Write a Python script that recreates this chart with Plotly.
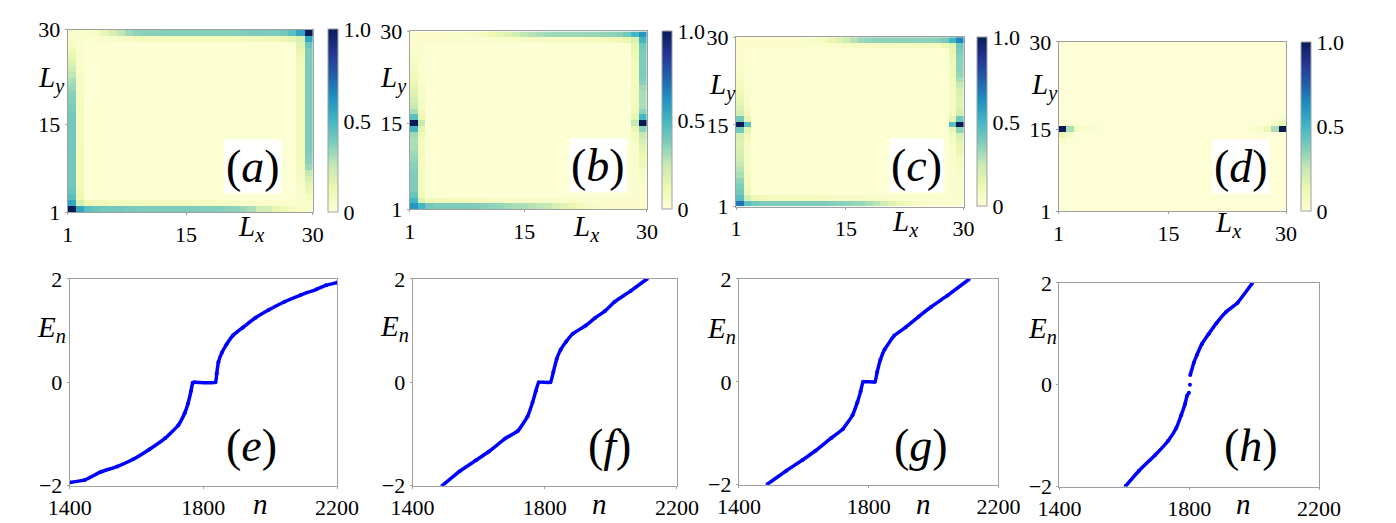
import plotly.graph_objects as go

W, H = 1396, 523

# ---------------- heatmap data ----------------
BG_ABC = 0.02
BG_D = 0.01

# panel (a): edge rows / columns (index 0 -> site 1)
A_bottom = [1.0,0.55,0.45,0.42,0.40,0.40,0.40,0.39,0.39,0.38,0.38,0.38,0.38,0.38,0.38,0.38,0.37,0.37,0.37,0.36,0.35,0.33,0.30,0.22,0.20,0.15,0.12,0.07,0.05,0.04]
A_top    = [0.03,0.03,0.04,0.06,0.14,0.20,0.26,0.32,0.35,0.36,0.36,0.37,0.37,0.37,0.37,0.37,0.37,0.37,0.37,0.37,0.37,0.37,0.38,0.38,0.38,0.38,0.40,0.45,0.55,1.0]
A_left   = [1.0,0.55,0.45,0.42,0.40,0.40,0.40,0.40,0.40,0.40,0.40,0.40,0.40,0.40,0.40,0.40,0.39,0.38,0.37,0.36,0.33,0.30,0.26,0.22,0.18,0.14,0.10,0.07,0.05,0.03]
A_right  = [0.04,0.05,0.08,0.12,0.15,0.20,0.25,0.33,0.36,0.37,0.38,0.38,0.38,0.38,0.38,0.38,0.38,0.38,0.38,0.38,0.38,0.38,0.38,0.38,0.38,0.38,0.38,0.42,0.55,1.0]
A_bottom2 = [0.55,0.20,0.12,0.10,0.10,0.09,0.09,0.09,0.08,0.08,0.08,0.08,0.08,0.08,0.08,0.07,0.07,0.07,0.06,0.06,0.06,0.05,0.05,0.04,0.04,0.04,0.03,0.03,0.03,0.05]
A_top2    = [0.03,0.03,0.03,0.03,0.04,0.05,0.06,0.07,0.08,0.08,0.08,0.08,0.08,0.08,0.08,0.08,0.08,0.08,0.08,0.08,0.08,0.08,0.09,0.09,0.10,0.10,0.12,0.15,0.20,0.55]
A_left2   = [0.55,0.20,0.12,0.10,0.09,0.09,0.09,0.09,0.09,0.09,0.09,0.08,0.08,0.08,0.08,0.08,0.08,0.08,0.07,0.07,0.06,0.06,0.05,0.05,0.04,0.04,0.03,0.03,0.03,0.03]
A_right2  = [0.03,0.03,0.03,0.04,0.05,0.06,0.07,0.08,0.09,0.09,0.09,0.09,0.09,0.09,0.09,0.09,0.09,0.09,0.09,0.09,0.09,0.09,0.09,0.09,0.10,0.11,0.13,0.16,0.20,0.55]

# panel (b)
B_bottom = [0.60,0.50,0.40,0.38,0.38,0.38,0.38,0.38,0.37,0.36,0.35,0.34,0.32,0.30,0.30,0.28,0.26,0.24,0.20,0.17,0.13,0.10,0.07,0.05,0.04,0.03,0.03,0.03,0.03,0.03]
B_top    = [0.03,0.03,0.03,0.03,0.03,0.03,0.04,0.05,0.07,0.09,0.12,0.15,0.18,0.22,0.26,0.28,0.30,0.32,0.33,0.33,0.33,0.33,0.33,0.33,0.34,0.35,0.36,0.40,0.50,0.60]
B_left   = [0.60,0.50,0.42,0.38,0.38,0.38,0.37,0.36,0.34,0.32,0.30,0.30,0.32,0.50,1.0,0.45,0.30,0.24,0.20,0.18,0.15,0.12,0.10,0.08,0.06,0.05,0.04,0.03,0.03,0.03]
B_right  = [0.03,0.03,0.03,0.03,0.04,0.05,0.07,0.10,0.12,0.14,0.16,0.20,0.25,0.35,1.0,0.50,0.35,0.30,0.30,0.30,0.32,0.36,0.38,0.38,0.38,0.38,0.38,0.40,0.50,0.60]
B_bottom2 = [0.50,0.18,0.10,0.09,0.09,0.08,0.08,0.08,0.08,0.08,0.07,0.07,0.07,0.06,0.06,0.06,0.05,0.05,0.05,0.04,0.04,0.04,0.03,0.03,0.03,0.03,0.03,0.03,0.03,0.03]
B_top2    = [0.03,0.03,0.03,0.03,0.03,0.03,0.03,0.03,0.03,0.03,0.04,0.04,0.05,0.05,0.06,0.06,0.06,0.07,0.07,0.07,0.07,0.07,0.08,0.08,0.08,0.09,0.10,0.14,0.18,0.50]
B_left2   = [0.50,0.18,0.10,0.09,0.09,0.09,0.08,0.08,0.08,0.08,0.08,0.09,0.10,0.15,0.25,0.12,0.09,0.07,0.06,0.05,0.05,0.04,0.04,0.03,0.03,0.03,0.03,0.03,0.03,0.03]
B_right2  = [0.03,0.03,0.03,0.03,0.03,0.03,0.03,0.04,0.04,0.05,0.05,0.06,0.08,0.12,0.25,0.15,0.10,0.09,0.08,0.08,0.08,0.08,0.09,0.09,0.09,0.10,0.12,0.14,0.18,0.50]

# panel (c)
C_bottom = [0.70,0.45,0.40,0.38,0.38,0.38,0.38,0.38,0.38,0.38,0.38,0.38,0.37,0.36,0.35,0.34,0.33,0.30,0.27,0.22,0.18,0.14,0.10,0.07,0.05,0.04,0.03,0.03,0.03,0.03]
C_top    = [0.03,0.03,0.03,0.03,0.03,0.03,0.03,0.03,0.03,0.04,0.06,0.09,0.13,0.17,0.22,0.28,0.32,0.34,0.35,0.35,0.35,0.35,0.35,0.35,0.35,0.35,0.36,0.38,0.50,0.65]
C_left   = [0.70,0.45,0.40,0.38,0.35,0.30,0.28,0.25,0.22,0.20,0.18,0.18,0.20,0.40,1.0,0.40,0.22,0.18,0.15,0.12,0.10,0.08,0.06,0.05,0.04,0.03,0.03,0.03,0.03,0.03]
C_right  = [0.03,0.03,0.03,0.03,0.03,0.04,0.05,0.07,0.09,0.12,0.14,0.16,0.20,0.35,1.0,0.40,0.22,0.18,0.17,0.18,0.20,0.24,0.30,0.34,0.35,0.35,0.36,0.38,0.40,0.65]
C_bottom2 = [0.45,0.20,0.12,0.10,0.09,0.09,0.09,0.08,0.08,0.08,0.08,0.08,0.07,0.07,0.07,0.06,0.06,0.05,0.05,0.05,0.04,0.04,0.03,0.03,0.03,0.03,0.03,0.03,0.03,0.03]
C_top2    = [0.03,0.03,0.03,0.03,0.03,0.03,0.03,0.03,0.03,0.03,0.03,0.03,0.04,0.04,0.05,0.06,0.06,0.07,0.07,0.07,0.07,0.07,0.08,0.08,0.08,0.08,0.09,0.12,0.16,0.40]
C_left2   = [0.45,0.20,0.10,0.09,0.08,0.07,0.07,0.06,0.06,0.06,0.06,0.07,0.09,0.15,0.45,0.14,0.08,0.06,0.05,0.04,0.04,0.03,0.03,0.03,0.03,0.03,0.03,0.03,0.03,0.03]
C_right2  = [0.03,0.03,0.03,0.03,0.03,0.03,0.03,0.03,0.04,0.04,0.05,0.06,0.08,0.13,0.45,0.15,0.08,0.07,0.07,0.07,0.07,0.08,0.09,0.10,0.10,0.10,0.11,0.13,0.16,0.40]

# panel (d): sparse non-background cells (x, y, value)
D_cells = [(1,15,1.0),(2,15,0.30),(3,15,0.08),(4,15,0.04),(5,15,0.03),
           (1,14,0.12),(2,14,0.06),(1,13,0.04),
           (30,15,1.0),(29,15,0.30),(28,15,0.12),(27,15,0.05),(26,15,0.03),
           (30,16,0.15),(29,16,0.06),(30,17,0.04)]

# ---------------- spectra data ----------------
E_n = [1400,1445,1493,1542,1590,1638,1686,1725,1744,1754,1763,1768,1773,1836,1840,1845,1855,1869,1889,1918,1956,1995,2043,2091,2139,2168,2200]
E_E = [-1.94,-1.89,-1.735,-1.63,-1.49,-1.30,-1.08,-0.83,-0.60,-0.41,-0.17,-0.01,0.0,0.0,0.17,0.39,0.57,0.73,0.91,1.06,1.25,1.40,1.56,1.69,1.80,1.88,1.93]

F_n = [1490,1543,1592,1631,1680,1719,1748,1763,1773,1782,1817,1826,1836,1848,1865,1885,1924,1953,1982,2012,2060,2109]
F_E = [-2.0,-1.72,-1.51,-1.34,-1.09,-0.94,-0.66,-0.39,-0.17,0.0,0.0,0.20,0.45,0.63,0.79,0.94,1.10,1.25,1.38,1.56,1.77,2.0]

G_n = [1488,1546,1596,1636,1685,1720,1750,1765,1775,1783,1819,1826,1836,1849,1879,1914,1954,1993,2043,2108]
G_E = [-1.99,-1.73,-1.52,-1.34,-1.09,-0.92,-0.65,-0.40,-0.19,0.0,0.0,0.19,0.43,0.63,0.90,1.06,1.27,1.46,1.68,1.99]

H_n = [1604,1645,1695,1735,1760,1775,1787,1793,1799,None,1802,None,1803,1814,1824,1839,1859,1884,1914,1949,1993]
H_E = [-1.99,-1.69,-1.38,-1.10,-0.85,-0.60,-0.38,-0.22,-0.16,None,0.0,None,0.19,0.43,0.59,0.80,0.99,1.21,1.43,1.61,1.98]

heat_ticks = [1, 15, 30]
cbar_ticks = [0, 0.5, 1.0]
cbar_ticktext = ["0", "0.5", "1.0"]
n_ticks = [1400, 1800, 2200]
E_ticks = [-2, 0, 2]
E_ticktext = ["\u22122", "0", "2"]

YlGnBu = ['rgb(255,255,217)', 'rgb(237,248,177)', 'rgb(199,233,180)', 'rgb(127,205,187)',
          'rgb(65,182,196)', 'rgb(29,145,192)', 'rgb(34,94,168)', 'rgb(37,52,148)', 'rgb(8,29,88)']
cscale = [[i / (len(YlGnBu) - 1), c] for i, c in enumerate(YlGnBu)]


def build_grid(bg, bottom, top, left, right, bottom2, top2, left2, right2):
    z = [[bg] * 30 for _ in range(30)]
    for i in range(1, 29):
        z[1][i] = bottom2[i]
        z[28][i] = top2[i]
        z[i][1] = left2[i]
        z[i][28] = right2[i]
    for i in range(30):
        z[0][i] = bottom[i]
        z[29][i] = top[i]
        z[i][0] = left[i]
        z[i][29] = right[i]
    return z


zA = build_grid(BG_ABC, A_bottom, A_top, A_left, A_right, A_bottom2, A_top2, A_left2, A_right2)
zB = build_grid(BG_ABC, B_bottom, B_top, B_left, B_right, B_bottom2, B_top2, B_left2, B_right2)
zC = build_grid(BG_ABC, C_bottom, C_top, C_left, C_right, C_bottom2, C_top2, C_left2, C_right2)
zD = [[BG_D] * 30 for _ in range(30)]
for (cx, cy, v) in D_cells:
    zD[cy - 1][cx - 1] = v

# ---------------- layout (pixel boxes) ----------------
def fx(p):
    return p / W

def fy(p):
    return 1 - p / H

FONT = "'Liberation Serif', 'Times New Roman', 'DejaVu Serif', serif"
GRAY = "rgb(160,160,160)"
TICK_SIZE = 22

heat_boxes = [(39, 292, 10, 202), (392, 637, 12, 199), (729, 964, 18, 196), (1062, 1297, 23, 201)]
cbar_boxes = [(308, 10, 202), (653, 12, 199), (978, 18, 196), (1312, 23, 201)]
line_boxes = [(41, 317, 272, 489), (395, 668, 272, 489), (732, 1000, 272, 488), (1063, 1331, 276, 490)]

fig = go.Figure()
layout = dict(width=W, height=H, margin=dict(l=0, r=0, t=0, b=0),
              paper_bgcolor="white", plot_bgcolor="white", showlegend=False,
              font=dict(family=FONT, size=TICK_SIZE, color="black"))

def axis_common():
    return dict(showline=True, mirror=True, linecolor=GRAY, linewidth=1, ticks="outside",
                ticklen=2, tickcolor=GRAY, tickwidth=1,
                showgrid=False, zeroline=False, tickfont=dict(family=FONT, size=TICK_SIZE, color="black"),
                fixedrange=True)

grids = [zA, zB, zC, zD]
for k in range(4):
    xa = "xaxis" if k == 0 else f"xaxis{k+1}"
    ya = "yaxis" if k == 0 else f"yaxis{k+1}"
    xr = "x" if k == 0 else f"x{k+1}"
    yr = "y" if k == 0 else f"y{k+1}"
    l, r, t, b = heat_boxes[k]
    cx, ct, cb = cbar_boxes[k]
    fig.add_trace(go.Heatmap(
        z=grids[k], x0=1 + 29 / 60, dx=29 / 30, y0=1 + 29 / 60, dy=29 / 30,
        colorscale=cscale, zmin=0, zmax=1, xaxis=xr, yaxis=yr, showscale=True,
        colorbar=dict(x=fx(cx), xanchor="left", thickness=10, thicknessmode="pixels",
                      len=(cb - ct) / H, lenmode="fraction", y=fy((ct + cb) / 2), yanchor="middle",
                      outlinecolor=GRAY, outlinewidth=1, tickvals=cbar_ticks, ticktext=cbar_ticktext,
                      ticks="", tickfont=dict(family=FONT, size=TICK_SIZE, color="black"), xpad=0, ypad=0)))
    layout[xa] = dict(axis_common(), domain=[fx(l), fx(r)], range=[1, 30], tickvals=heat_ticks,
                      anchor=yr)
    layout[ya] = dict(axis_common(), domain=[fy(b), fy(t)], range=[1, 30], tickvals=heat_ticks,
                      anchor=xr)

spectra = [(E_n, E_E), (F_n, F_E), (G_n, G_E), (H_n, H_E)]
for k in range(4):
    idx = k + 5
    xa, ya = f"xaxis{idx}", f"yaxis{idx}"
    xr, yr = f"x{idx}", f"y{idx}"
    l, r, t, b = line_boxes[k]
    nn, ee = spectra[k]
    fig.add_trace(go.Scatter(x=nn, y=ee, mode="lines+markers", xaxis=xr, yaxis=yr,
                             line=dict(color="rgb(0,0,255)", width=3.5, shape="spline", smoothing=0.4),
                             marker=dict(color="rgb(0,0,255)", size=4),
                             connectgaps=False, hoverinfo="skip"))
    layout[xa] = dict(axis_common(), domain=[fx(l), fx(r)], range=[1400, 2200], tickvals=n_ticks,
                      anchor=yr)
    layout[ya] = dict(axis_common(), domain=[fy(b), fy(t)], range=[-2, 2], tickvals=E_ticks,
                      ticktext=E_ticktext, anchor=xr)

annotations = []

def ann(text, px, py, size, bg=None):
    d = dict(text=text, x=fx(px), y=fy(py), xref="paper", yref="paper", showarrow=False,
             xanchor="center", yanchor="middle", font=dict(family=FONT, size=size, color="black"))
    if bg:
        d["bgcolor"] = bg
    annotations.append(d)

panel_labels_top = [("(<i>a</i>)", 230, 154), ("(<i>b</i>)", 587, 153), ("(<i>c</i>)", 915, 153), ("(<i>d</i>)", 1250, 154)]
panel_labels_bot = [("(<i>e</i>)", 229, 447), ("(<i>f</i>)", 598, 447), ("(<i>g</i>)", 920, 447), ("(<i>h</i>)", 1261, 447)]
for t, x, y in panel_labels_top:
    ann(t, x, y, 46, bg="white")
for t, x, y in panel_labels_bot:
    ann(t, x, y, 46)

Ly = "<i>L</i><sub><i>y</i></sub>"
Lx = "<i>L</i><sub><i>x</i></sub>"
En = "<i>E</i><sub><i>n</i></sub>"
for x, y in [(22, 63), (375, 63), (715, 70), (1047, 70)]:
    ann(Ly, x, y, 29)
for x, y in [(228, 218), (574, 218), (903, 213), (1237, 214)]:
    ann(Lx, x, y, 29)
for x, y in [(22, 325), (376, 323), (714, 326), (1045, 326)]:
    ann(En, x, y, 29)
for x, y in [(238, 508), (588, 508), (923, 508), (1253, 508)]:
    ann("<i>n</i>", x, y, 29)

layout["annotations"] = annotations
fig.update_layout(**layout)
fig.write_html("out.html")
